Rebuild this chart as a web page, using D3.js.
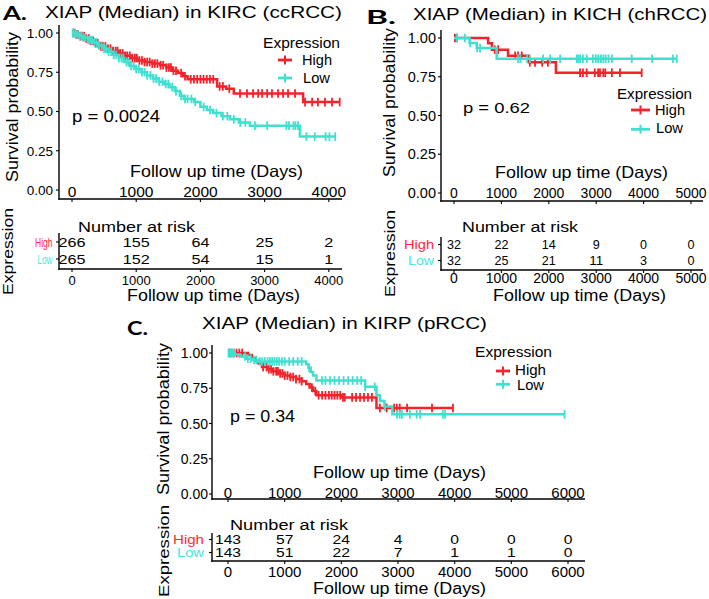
<!DOCTYPE html>
<html><head><meta charset="utf-8">
<script src="https://cdn.jsdelivr.net/npm/d3@7"></script>
<style>body{margin:0;background:#fff}</style>
</head><body><script>
// ---------------- DATA ----------------
const groups = ["High", "Low"];
const groupColors = ["#F2232B", "#3FE0D0"];
const labelColors = ["#FF2B33", "#45EADC"];
const legendTitle = "Expression";
const yTickValues = [0, 0.25, 0.5, 0.75, 1];
const yTickLabels = ["0.00", "0.25", "0.50", "0.75", "1.00"];

// Panel A: KIRC
const kircTitle = "XIAP (Median) in KIRC (ccRCC)";
const kircP = "p = 0.0024";
const kircTimes = [0, 1000, 2000, 3000, 4000];
const kircHighSteps = [[0,1],[60,0.99],[130,0.98],[200,0.965],[280,0.95],[360,0.935],[440,0.915],[530,0.9],[620,0.885],[720,0.87],[820,0.855],[920,0.84],[1020,0.825],[1130,0.815],[1250,0.805],[1370,0.795],[1470,0.78],[1560,0.76],[1650,0.745],[1730,0.725],[1800,0.705],[2260,0.66],[2400,0.645],[2520,0.615],[3600,0.56]];
const kircLowSteps = [[0,1],[60,0.99],[120,0.98],[180,0.97],[250,0.955],[330,0.94],[410,0.92],[490,0.9],[570,0.88],[650,0.86],[730,0.84],[810,0.815],[900,0.79],[990,0.77],[1080,0.75],[1170,0.73],[1260,0.71],[1350,0.69],[1440,0.675],[1520,0.655],[1600,0.63],[1680,0.6],[1740,0.58],[1900,0.56],[2000,0.53],[2100,0.51],[2200,0.49],[2330,0.47],[2460,0.45],[2600,0.43],[2770,0.41],[3550,0.34]];
const kircHighCensor = [15,40,70,95,130,160,190,220,260,290,330,370,400,450,480,520,560,600,640,680,710,750,790,830,860,900,940,980,1010,1050,1090,1130,1170,1210,1250,1290,1330,1380,1420,1470,1510,1540,1580,1620,1700,1760,1850,1900,1950,2000,2050,2100,2150,2200,2300,2350,2450,2617,2726,2820,2900,2960,3040,3115,3209,3287,3365,3474,3630,3740,3830,3940,4050,4170];
const kircLowCensor = [10,30,60,90,120,150,180,210,250,280,310,350,380,420,460,500,530,570,610,650,690,730,770,800,850,880,920,960,1000,1040,1090,1130,1170,1220,1270,1310,1360,1410,1460,1500,1560,1620,1700,1760,1800,1860,1920,2050,2150,2250,2350,2420,2520,2620,2700,2850,3040,3340,3380,3450,3480,3520,3650,3780,3950,4010,4100];
const kircRiskHigh = [266, 155, 64, 25, 2];
const kircRiskLow = [265, 152, 54, 15, 1];

// Panel B: KICH
const kichTitle = "XIAP (Median) in KICH (chRCC)";
const kichP = "p = 0.62";
const kichTimes = [0, 1000, 2000, 3000, 4000, 5000];
const kichHighSteps = [[0,1],[720,0.966],[800,0.925],[1140,0.885],[1580,0.843],[2150,0.776]];
const kichLowSteps = [[0,1],[330,0.968],[480,0.935],[900,0.866]];
const kichHighCensor = [20,60,860,930,1290,1350,1430,1600,1710,1860,1980,2660,2720,2800,2970,3040,3080,3150,3190,3330,3500,3960];
const kichLowCensor = [60,230,340,490,550,1350,1400,1540,1600,1880,2030,2240,2590,2620,2660,2720,2800,2930,2990,3040,3100,3150,3200,3260,3330,3750,4180,4620,4700];
const kichRiskHigh = [32, 22, 14, 9, 0, 0];
const kichRiskLow = [32, 25, 21, 11, 3, 0];

// Panel C: KIRP
const kirpTitle = "XIAP (Median) in KIRP (pRCC)";
const kirpP = "p = 0.34";
const kirpTimes = [0, 1000, 2000, 3000, 4000, 5000, 6000];
const kirpHighSteps = [[0,1],[350,0.985],[420,0.965],[480,0.945],[540,0.925],[600,0.9],[700,0.885],[800,0.87],[900,0.855],[1000,0.84],[1100,0.83],[1200,0.815],[1300,0.8],[1380,0.78],[1440,0.755],[1500,0.73],[1560,0.7],[2000,0.685],[2620,0.61]];
const kirpLowSteps = [[0,1],[120,0.99],[220,0.975],[320,0.96],[420,0.95],[540,0.94],[1380,0.92],[1420,0.895],[1460,0.865],[1500,0.84],[1560,0.805],[2420,0.76],[2620,0.7],[2680,0.66],[2760,0.62],[2900,0.565]];
const kirpHighCensor = [20,60,100,150,200,250,620,680,720,760,800,850,880,920,960,1000,1050,1100,1150,1200,1260,1300,1480,1540,1600,1660,1720,1780,1830,1880,1930,1980,2030,2060,2190,2260,2330,2400,2470,2540,2680,2800,2930,2980,3030,3160,3600,3970];
const kirpLowCensor = [10,40,70,100,300,350,400,460,500,560,600,650,700,740,780,820,860,900,950,1000,1080,1150,1230,1300,1430,1660,1720,1800,1880,1960,2040,2120,2200,2280,2350,2420,2590,2770,2980,3030,3070,3210,3330,3390,3790,3830,5940];
const kirpRiskHigh = [143, 57, 24, 4, 0, 0, 0];
const kirpRiskLow = [143, 51, 22, 7, 1, 1, 0];

// ---------------- DRAWING ----------------
const FONT = '"Liberation Sans", Arial, Helvetica, sans-serif';
const TAGFONT = 'Lato, "Open Sans", sans-serif';
const svg = d3.select("body").append("svg").attr("width", 709).attr("height", 599);

function addText(g, str, x, y, o = {}) {
  const t = g.append("text").attr("x", x).attr("y", y).text(str)
    .style("font-family", o.family || FONT)
    .style("font-size", (o.size || 14) + "px")
    .attr("fill", o.fill || "#000")
    .attr("text-anchor", o.anchor || "start");
  if (o.weight) t.style("font-weight", o.weight);
  if (o.width) t.attr("textLength", o.width).attr("lengthAdjust", "spacingAndGlyphs");
  if (o.rotate) t.attr("transform", `rotate(-90 ${x} ${y})`);
  return t;
}
function hline(g, x1, x2, y, w = 1.4, c = "#000") {
  g.append("line").attr("x1", x1).attr("x2", x2).attr("y1", y).attr("y2", y).attr("stroke", c).attr("stroke-width", w);
}
function vline(g, x, y1, y2, w = 1.4, c = "#000") {
  g.append("line").attr("x1", x).attr("x2", x).attr("y1", y1).attr("y2", y2).attr("stroke", c).attr("stroke-width", w);
}
function survAt(steps, t) {
  let s = steps[0][1];
  for (const [tt, v] of steps) { if (tt <= t) s = v; else break; }
  return s;
}

function drawPanel(P, L) {
  const g = svg.append("g");
  const x = d3.scaleLinear().domain([0, P.times[P.times.length - 1]]).range([L.x0, L.x1]);
  const y = d3.scaleLinear().domain([0, 1]).range([L.y0, L.y1]);

  addText(g, P.tag, L.tagX, L.tagY, { family: TAGFONT, size: 19.5, weight: "bold", width: L.tagW });
  addText(g, P.title, L.titleX, L.titleY, { size: 17, width: L.titleW });

  // axes
  vline(g, L.axL, L.axTop, L.axY + 0.7);
  hline(g, L.axL - 0.7, L.axR, L.axY);
  yTickValues.forEach((v, i) => {
    hline(g, L.axL - 3, L.axL, y(v), 1.1);
    addText(g, yTickLabels[i], L.yTickRight, y(v), { size: L.yTickSize, anchor: "end" }).attr("dy", "0.36em");
  });
  P.times.forEach(t => {
    vline(g, x(t), L.axY, L.axY + 3, 1.1);
    addText(g, String(t), x(t), L.xTickY, { size: L.xTickSize, anchor: "middle" });
  });
  addText(g, "Follow up time (Days)", L.xTitleX, L.xTitleY, { size: 16.5, width: 173 });
  addText(g, "Survival probability", L.yTitleX, L.yTitleY, { size: 17, width: L.yTitleW, rotate: true });

  // curves
  const line = d3.line().curve(d3.curveStepAfter).x(d => x(d[0])).y(d => y(d[1]));
  [[P.high, P.hc, 0], [P.low, P.lc, 1]].forEach(([steps, cens, gi]) => {
    const end = d3.max(cens);
    const pts = steps.concat([[end, steps[steps.length - 1][1]]]);
    g.append("path").attr("d", line(pts)).attr("fill", "none")
      .attr("stroke", groupColors[gi]).attr("stroke-width", 2.5);
    g.selectAll(null).data(cens).enter().append("line")
      .attr("x1", d => x(d)).attr("x2", d => x(d))
      .attr("y1", d => y(survAt(steps, d)) - 4.3).attr("y2", d => y(survAt(steps, d)) + 4.3)
      .attr("stroke", groupColors[gi]).attr("stroke-width", 1.8);
  });

  // p value
  addText(g, P.p, L.pX, L.pY, { size: L.pSize, width: L.pW });

  // legend
  addText(g, legendTitle, L.legX, L.legY, { size: 14.5, width: L.legW });
  [[L.legHighSymY, L.legHighY, L.highW], [L.legLowSymY, L.legLowY, L.lowW]].forEach(([sy, ty, tw], gi) => {
    hline(g, L.symX, L.symX + L.symW, sy, 2.8, groupColors[gi]);
    vline(g, L.symX + L.symW / 2, sy - 4.5, sy + 4.5, 2, groupColors[gi]);
    addText(g, groups[gi], L.legTextX + (gi ? L.lowDx : 0), ty, { size: 14.5, width: tw });
  });

  // risk table
  addText(g, "Number at risk", L.rkTitleX, L.rkTitleY, { size: 15.5, width: L.rkTitleW });
  vline(g, L.axL, L.rkAxTop, L.rkAxY + 0.7);
  hline(g, L.axL - 0.7, L.axR, L.rkAxY);
  [[P.riskHigh, L.rkHighY, L.rkHighC, L.hlW], [P.riskLow, L.rkLowY, L.rkLowC, L.llW]].forEach(([vals, by, cy, lw], gi) => {
    hline(g, L.axL - 3, L.axL, cy, 1.1);
    addText(g, groups[gi], L.rkLabelRight - lw, by, { size: L.rkLabelSize, width: lw, fill: labelColors[gi] });
    vals.forEach((v, i) => {
      const w = String(v).length * L.digitW;
      addText(g, String(v), x(P.times[i]) - w / 2, by, { size: L.rkNumSize, width: w });
    });
  });
  P.times.forEach(t => {
    vline(g, x(t), L.rkAxY, L.rkAxY + 3, 1.1);
    addText(g, String(t), x(t), L.rkTickY, { size: L.rkTickSize, anchor: "middle" });
  });
  addText(g, "Follow up time (Days)", L.rkXTitleX, L.rkXTitleY, { size: 16, width: 173 });
  addText(g, "Expression", L.rkYTitleX, L.rkYTitleY, { size: 15, width: L.rkYTitleW, rotate: true });
}

drawPanel(
  { tag: "A.", title: kircTitle, p: kircP, times: kircTimes, high: kircHighSteps, low: kircLowSteps,
    hc: kircHighCensor, lc: kircLowCensor, riskHigh: kircRiskHigh, riskLow: kircRiskLow },
  { tagX: 3, tagY: 19.5, tagW: 24, titleX: 45, titleY: 18, titleW: 297,
    axL: 59, axR: 342, axTop: 25, axY: 199, x0: 72, x1: 328.8, y0: 190, y1: 33,
    yTickRight: 53, yTickSize: 13.5, xTickY: 196.5, xTickSize: 15.5,
    xTitleX: 130, xTitleY: 177, yTitleX: 17.5, yTitleY: 182, yTitleW: 150,
    pX: 72, pY: 122, pW: 88, pSize: 16,
    legX: 263, legY: 47.5, legW: 77, symX: 278, symW: 14, legHighSymY: 60, legLowSymY: 78,
    legTextX: 302, lowDx: 1, legHighY: 65, legLowY: 82.7, highW: 30, lowW: 27,
    rkTitleX: 78, rkTitleY: 231.5, rkTitleW: 117, rkHighY: 246.5, rkLowY: 264, rkHighC: 242, rkLowC: 259,
    rkLabelRight: 52.5, hlW: 17.5, llW: 15, digitW: 9, rkLabelSize: 12.5, rkNumSize: 13.5,
    rkAxTop: 233, rkAxY: 269, rkTickY: 284.5, rkTickSize: 13,
    rkXTitleX: 127, rkXTitleY: 300.5, rkYTitleX: 13, rkYTitleY: 295, rkYTitleW: 87 });

drawPanel(
  { tag: "B.", title: kichTitle, p: kichP, times: kichTimes, high: kichHighSteps, low: kichLowSteps,
    hc: kichHighCensor, lc: kichLowCensor, riskHigh: kichRiskHigh, riskLow: kichRiskLow },
  { tagX: 366, tagY: 23.5, tagW: 30, titleX: 413, titleY: 20, titleW: 294,
    axL: 441, axR: 703, axTop: 30, axY: 201, x0: 454, x1: 691, y0: 193, y1: 38,
    yTickRight: 436, yTickSize: 14.5, xTickY: 198, xTickSize: 14,
    xTitleX: 495, xTitleY: 178.3, yTitleX: 395, yTitleY: 177, yTitleW: 149,
    pX: 463, pY: 113.3, pW: 67, pSize: 14.5,
    legX: 617, legY: 99.3, legW: 75, symX: 631, symW: 19, legHighSymY: 110, legLowSymY: 129.3,
    legTextX: 655, lowDx: 1, legHighY: 115, legLowY: 133.3, highW: 30, lowW: 27,
    rkTitleX: 462, rkTitleY: 231.7, rkTitleW: 116, rkHighY: 249.3, rkLowY: 265, rkHighC: 244.5, rkLowC: 260.5,
    rkLabelRight: 434, hlW: 30, llW: 26, digitW: 7, rkLabelSize: 13.5, rkNumSize: 13.5,
    rkAxTop: 237, rkAxY: 270, rkTickY: 283, rkTickSize: 14,
    rkXTitleX: 493, rkXTitleY: 300.5, rkYTitleX: 395, rkYTitleY: 297, rkYTitleW: 87 });

drawPanel(
  { tag: "C.", title: kirpTitle, p: kirpP, times: kirpTimes, high: kirpHighSteps, low: kirpLowSteps,
    hc: kirpHighCensor, lc: kirpLowCensor, riskHigh: kirpRiskHigh, riskLow: kirpRiskLow },
  { tagX: 127, tagY: 335, tagW: 21, titleX: 202, titleY: 329, titleW: 285,
    axL: 212, axR: 585, axTop: 345, axY: 499, x0: 228, x1: 568, y0: 494, y1: 353,
    yTickRight: 208, yTickSize: 14, xTickY: 497.5, xTickSize: 15,
    xTitleX: 313, xTitleY: 478, yTitleX: 169, yTitleY: 495, yTitleW: 152,
    pX: 230, pY: 421.7, pW: 65, pSize: 16,
    legX: 475, legY: 356.7, legW: 77, symX: 496, symW: 14, legHighSymY: 371, legLowSymY: 384.3,
    legTextX: 515, lowDx: 2, legHighY: 375, legLowY: 390, highW: 31, lowW: 27,
    rkTitleX: 230, rkTitleY: 530, rkTitleW: 118, rkHighY: 544, rkLowY: 557, rkHighC: 539.5, rkLowC: 552.5,
    rkLabelRight: 204, hlW: 31, llW: 27, digitW: 8.7, rkLabelSize: 12, rkNumSize: 12.5,
    rkAxTop: 533, rkAxY: 561, rkTickY: 576.5, rkTickSize: 15,
    rkXTitleX: 313, rkXTitleY: 593.5, rkYTitleX: 169, rkYTitleY: 597, rkYTitleW: 92 });
</script></body></html>
